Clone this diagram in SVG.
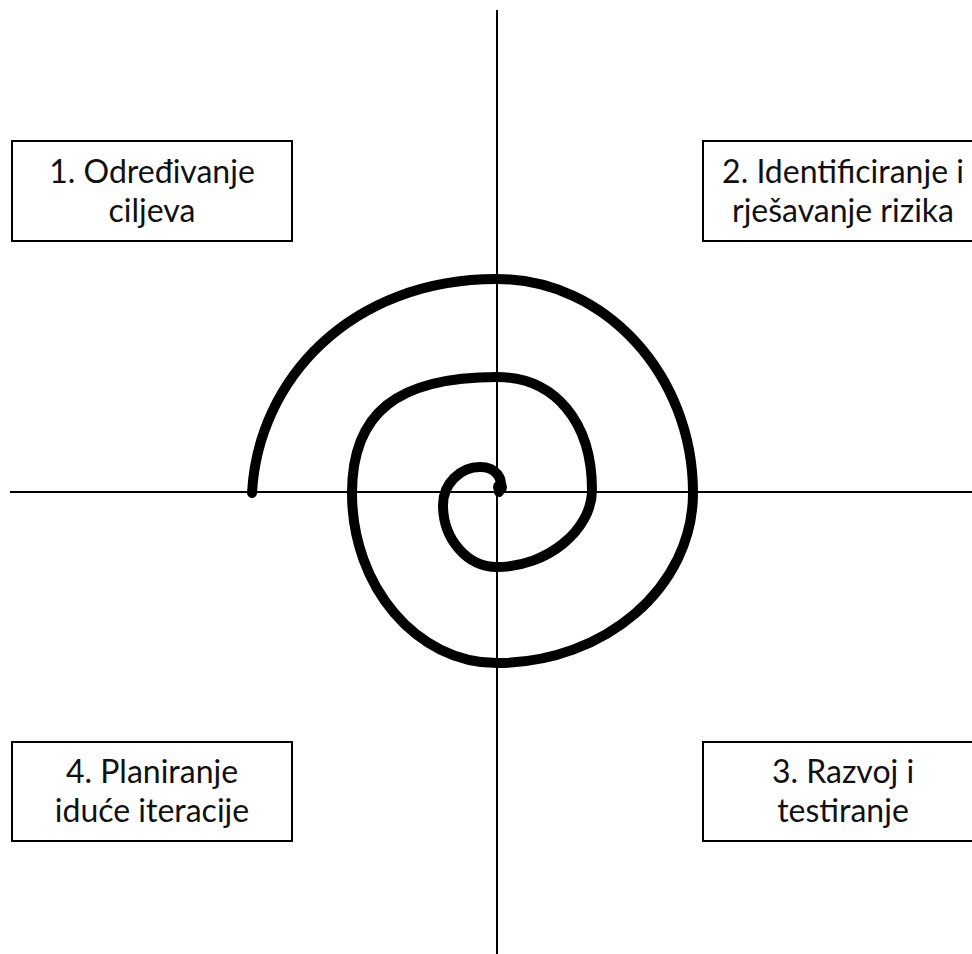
<svg xmlns="http://www.w3.org/2000/svg" width="972" height="954" viewBox="0 0 972 954">
<style>
.box{fill:#fff;stroke:#000;stroke-width:2}
.t{font-family:Lato,"Liberation Sans",sans-serif;font-size:32px;fill:#111;text-anchor:middle}
.ax{stroke:#000;stroke-width:2;fill:none}
.sp{stroke:#000;stroke-width:10;fill:none;stroke-linecap:round;stroke-linejoin:round}
</style>
<rect width="972" height="954" fill="#fff"/>
<g id="axes">
<line class="ax" x1="497" y1="10" x2="497" y2="954"/>
<line class="ax" x1="10" y1="492" x2="972" y2="492"/>
</g>
<g id="spiral">
<path class="sp" d="M252,493 C258,380 350,279 497,279 C605,279 693,375 693,493 C693,587 605,663 497,663 C417,663 352,587 352,493 C352,413 397,377 497,377 C555,377 592,422 592,490 C592,530 547,567 497,567 C467,567 443,539 443,505 C443,484 460,467 480,467 C495,467 505,478 499,492"/>
<circle cx="500" cy="487" r="7"/>
</g>
<g id="node1">
<rect class="box" x="12" y="141" width="280" height="100"/>
<text class="t" x="152" y="183">1. Određivanje</text>
<text class="t" x="152" y="222">ciljeva</text>
</g>
<g id="node2">
<rect class="box" x="703" y="141" width="280" height="100"/>
<text class="t" x="843" y="183">2. Identificiranje i</text>
<text class="t" x="843" y="222">rješavanje rizika</text>
</g>
<g id="node3">
<rect class="box" x="703" y="742" width="280" height="99"/>
<text class="t" x="843" y="783">3. Razvoj i</text>
<text class="t" x="843" y="822">testiranje</text>
</g>
<g id="node4">
<rect class="box" x="12" y="742" width="280" height="99"/>
<text class="t" x="152" y="783">4. Planiranje</text>
<text class="t" x="152" y="822">iduće iteracije</text>
</g>
</svg>
